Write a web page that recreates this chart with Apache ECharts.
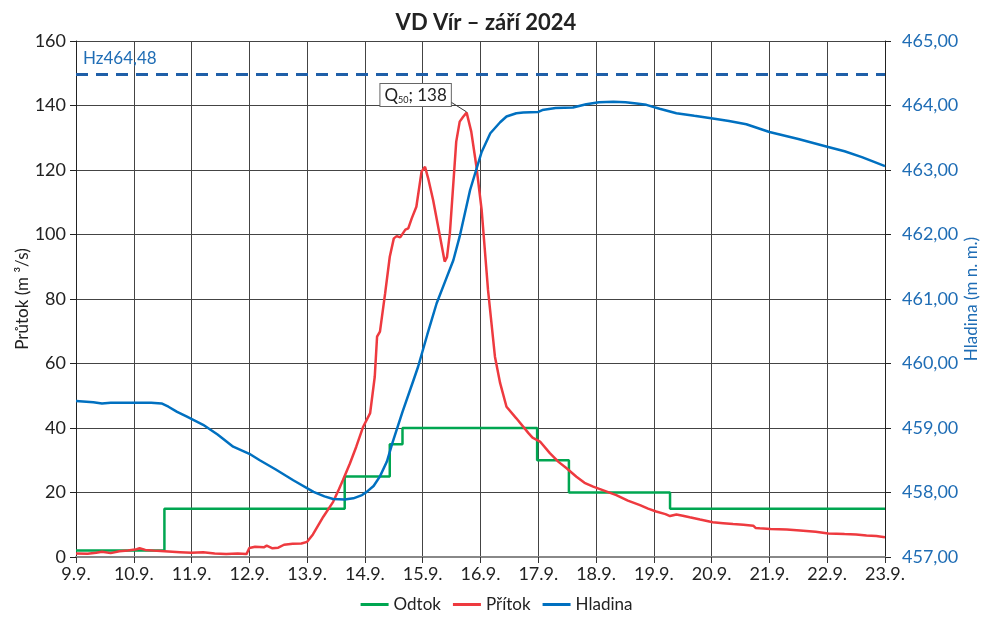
<!DOCTYPE html>
<html>
<head>
<meta charset="utf-8">
<script src="https://cdn.jsdelivr.net/npm/echarts@6/dist/echarts.min.js"></script>
<style>
  html, body { margin: 0; padding: 0; background: #fff; }
  #chart { width: 993px; height: 619px; }
</style>
</head>
<body>
<div id="chart"></div>
<script>
// time in days of September (9 = 9.9. 00:00)
var odtokTime = [9, 10.53, 13.65, 14.43, 14.65, 16.98, 17.53, 19.28, 23]
var odtokValue = [2, 15, 25, 35, 40, 30, 20, 15, 15]

var pritokTime = [9.0, 9.2, 9.35, 9.45, 9.6, 9.75, 9.9, 10.05, 10.1, 10.2, 10.4, 10.6, 10.8, 11.0, 11.2, 11.4, 11.6, 11.8, 11.95,
  12.0, 12.1, 12.25, 12.3, 12.4, 12.5, 12.6, 12.75, 12.9, 13.0, 13.1, 13.28, 13.45, 13.55, 13.62, 13.74, 13.85, 13.97,
  14.09, 14.17, 14.21, 14.26, 14.35, 14.43, 14.5, 14.55, 14.61, 14.7, 14.75, 14.81, 14.89, 14.98, 15.04, 15.1, 15.18,
  15.3, 15.38, 15.42, 15.47, 15.53, 15.58, 15.64, 15.7, 15.76, 15.84, 15.93, 16.02, 16.13, 16.25, 16.34, 16.45, 16.62,
  16.83, 16.9, 17.03, 17.2, 17.35, 17.49, 17.66, 17.8, 17.95, 18.15, 18.35, 18.55, 18.76, 18.9, 19.04, 19.2, 19.28,
  19.39, 19.5, 19.62, 19.8, 20.02, 20.2, 20.37, 20.55, 20.72, 20.76, 20.83, 21.02, 21.3, 21.53, 21.8, 22.02, 22.3,
  22.5, 22.68, 22.85, 23.0]
var pritokValue = [1.1, 1.0, 1.3, 1.6, 1.2, 1.8, 2.0, 2.4, 2.7, 2.2, 1.9, 1.7, 1.5, 1.3, 1.5, 1.1, 0.9, 1.1, 0.9,
  2.8, 3.2, 3.0, 3.5, 2.7, 2.9, 3.8, 4.1, 4.2, 4.7, 7.0, 12.5, 17.1, 21, 23.9, 29.0, 34.2, 40.4,
  44.6, 55.9, 68.3, 69.9, 81.8, 93.1, 98.8, 99.5, 99.1, 101.5, 101.9, 105.0, 108.6, 119.5, 121.0, 117, 110.7,
  99.3, 91.6, 93, 100.4, 115.9, 128.8, 135.0, 136.5, 137.8, 131.9, 121.0, 107.6, 82.8, 62.1, 53.9, 46.6, 43.0,
  38.4, 37.0, 35.8, 32.2, 29.5, 27.5, 24.9, 23.0, 21.8, 20.5, 19.2, 17.5, 16.1, 15.0, 14.1, 13.3, 12.7,
  13.2, 12.8, 12.3, 11.6, 10.8, 10.5, 10.2, 10.0, 9.7, 9.0, 8.9, 8.7, 8.5, 8.2, 7.8, 7.3, 7.1,
  7.0, 6.7, 6.5, 6.1]

var hladinaTime = [9.0, 9.3, 9.45, 9.6, 10.0, 10.3, 10.48, 10.6, 10.75, 10.92, 11.2, 11.45, 11.72, 12.0, 12.18, 12.45,
  12.76, 13.11, 13.3, 13.45, 13.65, 13.8, 13.95, 14.03, 14.15, 14.26, 14.38, 14.48, 14.65, 14.84, 14.92, 15.08, 15.24,
  15.4, 15.53, 15.64, 15.82, 16.02, 16.17, 16.34, 16.45, 16.62, 16.74, 17.0, 17.07, 17.3, 17.6, 17.83, 18.05, 18.3,
  18.51, 18.7, 18.87, 19.1, 19.39, 19.7, 20.02, 20.3, 20.6, 21.0, 21.5, 22.0, 22.3, 22.6, 23.0]
var hladinaValue = [459.42, 459.40, 459.38, 459.39, 459.39, 459.39, 459.38, 459.33, 459.25, 459.175, 459.05, 458.90,
  458.71, 458.60, 458.50, 458.36, 458.19, 458.01, 457.94, 457.90, 457.89, 457.91, 457.96, 458.01, 458.10, 458.25,
  458.48, 458.78, 459.25, 459.74, 459.95, 460.45, 460.93, 461.30, 461.60, 461.97, 462.69, 463.28, 463.57, 463.74,
  463.83, 463.88, 463.89, 463.90, 463.93, 463.96, 463.97, 464.02, 464.05, 464.06, 464.05, 464.03, 464.01, 463.95,
  463.88, 463.84, 463.80, 463.76, 463.71, 463.59, 463.48, 463.36, 463.29, 463.20, 463.06]

var hz = 464.48
var q50Time = 15.76
var q50Value = 138

function zip(xs, ys) {
  var out = []
  for (var i = 0; i < xs.length; i++) {
    out.push([xs[i], ys[i]])
  }
  return out
}

var font = 'Lato, "Noto Sans", sans-serif'
var blueText = '#1f6db5'

var chart = echarts.init(document.getElementById('chart'))
chart.setOption({
  animation: false,
  textStyle: { fontFamily: font },
  title: {
    text: 'VD Vír – září 2024',
    left: 481,
    textAlign: 'center',
    top: 7,
    textStyle: { fontSize: 22, fontWeight: 'bold', color: '#222', fontFamily: font }
  },
  legend: {
    bottom: 1,
    left: 'center',
    itemWidth: 28,
    itemHeight: 3,
    itemGap: 12,
    icon: 'rect',
    textStyle: { fontSize: 17, color: '#222', fontFamily: font },
    data: ['Odtok', 'Přítok', 'Hladina']
  },
  grid: { left: 76, right: 108, top: 41, bottom: 62 },
  xAxis: {
    type: 'value',
    min: 9,
    max: 23,
    interval: 1,
    axisLine: { lineStyle: { color: '#888', width: 2 } },
    axisTick: { length: 6, lineStyle: { color: '#333' } },
    axisLabel: {
      fontSize: 18, color: '#222', margin: 8,
      formatter: function (v) { return v + '.9.' }
    },
    splitLine: { lineStyle: { color: '#444', width: 1 } }
  },
  yAxis: [{
    type: 'value',
    min: 0,
    max: 160,
    interval: 20,
    name: 'Průtok (m ³/s)',
    nameLocation: 'middle',
    nameGap: 45,
    nameMoveOverlap: false,
    nameTextStyle: { fontSize: 17, color: '#222' },
    axisLine: { show: true, lineStyle: { color: '#222' } },
    axisTick: { show: true, length: 6, lineStyle: { color: '#222' } },
    axisLabel: { fontSize: 18, color: '#222', margin: 10 },
    splitLine: { lineStyle: { color: '#444', width: 1 } }
  }, {
    type: 'value',
    min: 457,
    max: 465,
    interval: 1,
    position: 'right',
    name: 'Hladina (m n. m.)',
    nameLocation: 'middle',
    nameGap: 78,
    nameMoveOverlap: false,
    nameTextStyle: { fontSize: 17, color: blueText },
    axisLine: { show: true, lineStyle: { color: '#222' } },
    axisTick: { show: true, length: 6, lineStyle: { color: '#222' } },
    axisLabel: {
      fontSize: 18, color: blueText, margin: 17,
      formatter: function (v) { return v.toFixed(2).replace('.', ',') }
    },
    splitLine: { show: false }
  }],
  series: [{
    name: 'Odtok',
    type: 'line',
    step: 'end',
    showSymbol: false,
    data: zip(odtokTime, odtokValue),
    lineStyle: { color: '#00a651', width: 2.5 },
    itemStyle: { color: '#00a651' }
  }, {
    name: 'Přítok',
    type: 'line',
    showSymbol: false,
    data: zip(pritokTime, pritokValue),
    lineStyle: { color: '#ee3a3f', width: 2.5 },
    itemStyle: { color: '#ee3a3f' },
    markLine: {
      silent: true,
      symbol: 'none',
      label: { show: false },
      lineStyle: { color: '#333', width: 1, type: 'solid' },
      data: [[{ coord: [15.45, 141.5] }, { coord: [q50Time, q50Value] }]]
    },
    markPoint: {
      silent: true,
      symbol: 'circle',
      symbolSize: 0,
      data: [{ coord: [q50Time, q50Value] }],
      label: {
        show: true,
        position: 'inside',
        offset: [-51, -17],
        backgroundColor: '#fff',
        borderColor: '#666',
        borderWidth: 1,
        padding: [2, 4, 1, 4],
        formatter: '{q|Q}{s|50}{q|; ' + q50Value + '}',
        rich: {
          q: { fontSize: 17, color: '#222', fontFamily: font },
          s: { fontSize: 9, color: '#222', fontFamily: font, verticalAlign: 'bottom', padding: [10, 0, 0, 0] }
        }
      }
    }
  }, {
    name: 'Hladina',
    type: 'line',
    yAxisIndex: 1,
    showSymbol: false,
    data: zip(hladinaTime, hladinaValue),
    lineStyle: { color: '#0070c0', width: 2.5 },
    itemStyle: { color: '#0070c0' },
    markLine: {
      silent: true,
      symbol: 'none',
      lineStyle: { color: '#1f5fa8', width: 3, type: [12, 8] },
      label: {
        show: true,
        position: 'insideStartTop',
        distance: [7, 8],
        color: blueText,
        fontSize: 17,
        fontFamily: font,
        formatter: 'Hz' + hz.toFixed(2).replace('.', ',')
      },
      data: [{ yAxis: hz }]
    }
  }]
})
</script>
</body>
</html>
